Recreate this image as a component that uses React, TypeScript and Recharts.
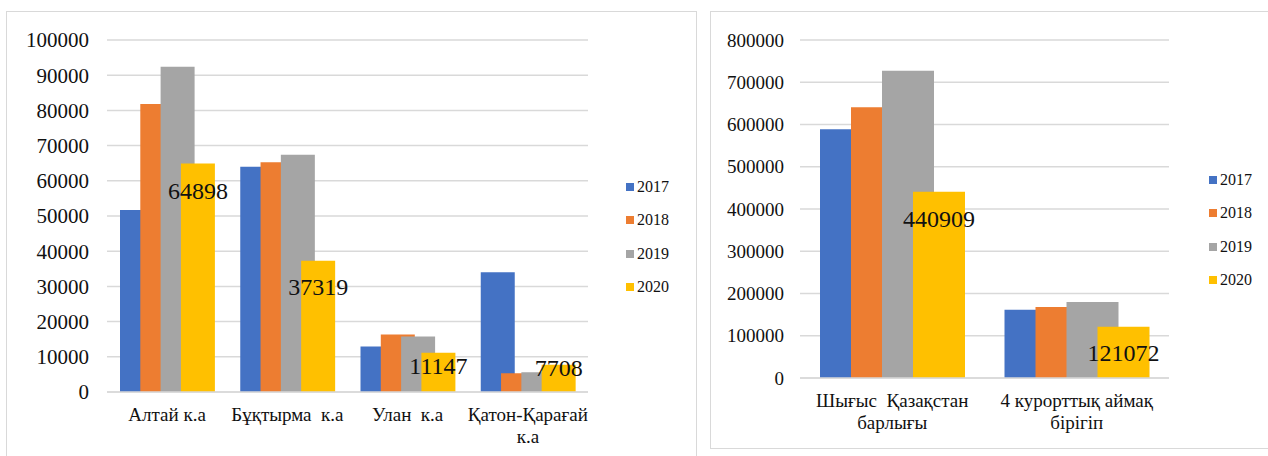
import { BarChart, Bar, XAxis, YAxis, CartesianGrid, Legend, LabelList } from "recharts";

const years = ["2017", "2018", "2019", "2020"];
const colors = ["#4472C4", "#ED7D31", "#A5A5A5", "#FFC000"];

// left chart: resort areas
const zonesA = ["Алтай к.а", "Бұқтырма  к.а", "Улан  к.а", "Қатон-Қарағай\nк.а"];
const a2017 = [51700, 64000, 12900, 34000];
const a2018 = [81800, 65300, 16300, 5300];
const a2019 = [92400, 67400, 15800, 5600];
const a2020 = [64898, 37319, 11147, 7708];
const ticksA = [0, 10000, 20000, 30000, 40000, 50000, 60000, 70000, 80000, 90000, 100000];

// right chart: region total vs four zones
const zonesB = ["Шығыс  Қазақстан\nбарлығы", "4 курорттық аймақ\nбірігіп"];
const b2017 = [589000, 161700];
const b2018 = [640700, 168000];
const b2019 = [727400, 179900];
const b2020 = [440909, 121072];
const ticksB = [0, 100000, 200000, 300000, 400000, 500000, 600000, 700000, 800000];

// label nudges below the bar top (px)
const labelDyA = [27, 26, 13, 3];
const labelDyB = [27, 26];

const font = "'Liberation Serif', 'Times New Roman', serif";

const build = (names: string[], s: number[][]) =>
  names.map((name, i) => {
    const row: any = { name };
    years.forEach((y, k) => (row[y] = s[k][i]));
    return row;
  });

const dataA = build(zonesA, [a2017, a2018, a2019, a2020]);
const dataB = build(zonesB, [b2017, b2018, b2019, b2020]);

const CatTick = ({ x, y, payload, size }: any) => {
  const lines = String(payload.value).split("\n");
  return (
    <text x={x} y={y + 21} textAnchor="middle" fontFamily={font} fontSize={size} fill="#111" style={{ whiteSpace: "pre" }}>
      {lines.map((l, i) => (
        <tspan key={i} x={x} dy={i === 0 ? 0 : 22}>
          {l}
        </tspan>
      ))}
    </text>
  );
};

const LegendBox = () => (
  <div style={{ fontFamily: font, fontSize: 16, color: "#111" }}>
    {years.map((y, i) => (
      <div key={y} style={{ display: "flex", alignItems: "center", height: 33.5 }}>
        <span style={{ width: 8, height: 8, background: colors[i], marginRight: 3 }} />
        <span>{y}</span>
      </div>
    ))}
  </div>
);

const makeLabel = (dys: number[]) => (p: any) => {
  const { x, y, width, index, value } = p;
  return (
    <text x={x + width / 2} y={y + dys[index]} textAnchor="middle" dominantBaseline="central" fontFamily={font} fontSize={24} fill="#111">
      {value}
    </text>
  );
};

const panel = (left: number, top: number, width: number, height: number): any => ({
  position: "absolute",
  left,
  top,
  width,
  height,
  border: "1.5px solid #d9d9d9",
  boxSizing: "border-box",
});

export default function App() {
  return (
    <div style={{ position: "absolute", left: 0, top: 0, width: 1268, height: 456, background: "#fff", overflow: "hidden" }}>
      <div style={panel(6, 11, 691, 460)} />
      <div style={panel(710, 11, 570, 438)} />

      <div style={{ position: "absolute", left: 0, top: 0 }}>
        <BarChart width={700} height={456} data={dataA} margin={{ top: 40, right: 112, left: 27, bottom: 14 }} barGap={-13.7}>
          <CartesianGrid vertical={false} stroke="#d9d9d9" strokeWidth={1.5} />
          <XAxis dataKey="name" interval={0} height={50} tickLine={false} axisLine={{ stroke: "#d9d9d9", strokeWidth: 1.5 }} tick={<CatTick size={19} />} />
          <YAxis width={80} domain={[0, 100000]} ticks={ticksA} axisLine={false} tickLine={false} tickMargin={12} tick={{ fontFamily: font, fontSize: 21, fill: "#111" }} />
          <Legend layout="vertical" align="center" verticalAlign="middle" wrapperStyle={{ left: 626, top: 170, width: 70 }} content={() => <LegendBox />} />
          {years.map((y, i) => (
            <Bar key={y} dataKey={y} fill={colors[i]} barSize={34} isAnimationActive={false}>
              {i === 3 && <LabelList dataKey={y} content={makeLabel(labelDyA)} />}
            </Bar>
          ))}
        </BarChart>
      </div>

      <div style={{ position: "absolute", left: 700, top: 0 }}>
        <BarChart width={568} height={456} data={dataB} margin={{ top: 40, right: 99, left: 20, bottom: 28 }} barGap={-21}>
          <CartesianGrid vertical={false} stroke="#d9d9d9" strokeWidth={1.5} />
          <XAxis dataKey="name" interval={0} height={50} tickLine={false} axisLine={{ stroke: "#d9d9d9", strokeWidth: 1.5 }} tick={<CatTick size={19} />} />
          <YAxis width={80} domain={[0, 800000]} ticks={ticksB} axisLine={false} tickLine={false} tickMargin={10} tick={{ fontFamily: font, fontSize: 19, fill: "#111" }} />
          <Legend layout="vertical" align="center" verticalAlign="middle" wrapperStyle={{ left: 509, top: 163, width: 60 }} content={() => <LegendBox />} />
          {years.map((y, i) => (
            <Bar key={y} dataKey={y} fill={colors[i]} barSize={52} isAnimationActive={false}>
              {i === 3 && <LabelList dataKey={y} content={makeLabel(labelDyB)} />}
            </Bar>
          ))}
        </BarChart>
      </div>
    </div>
  );
}
